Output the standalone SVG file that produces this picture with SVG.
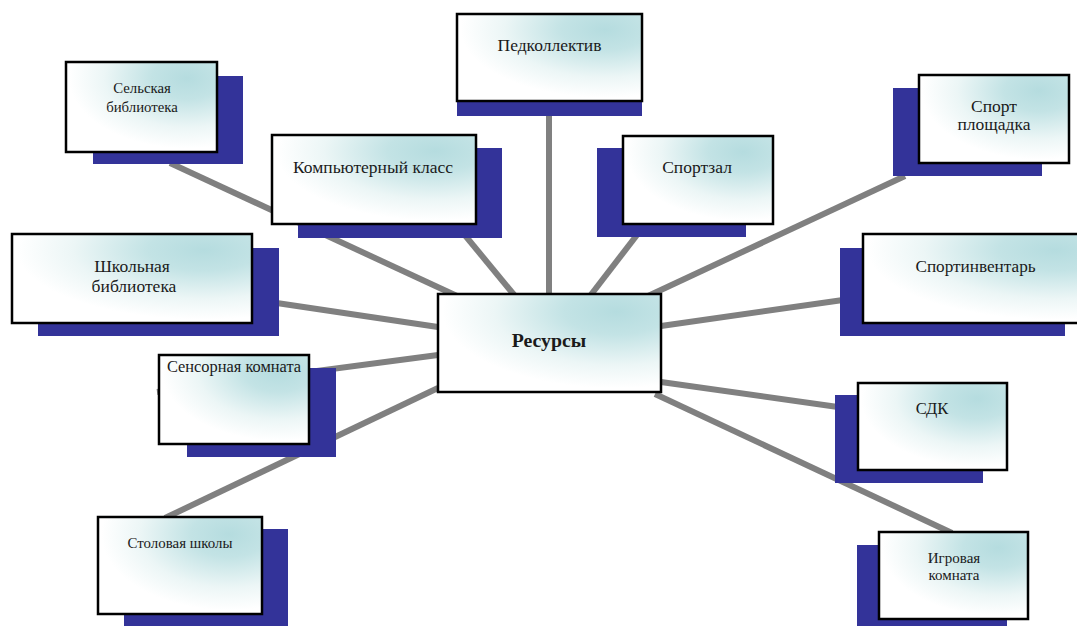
<svg xmlns="http://www.w3.org/2000/svg" width="1077" height="626" viewBox="0 0 1077 626">
<defs>
<radialGradient id="g" cx="0.8" cy="0.18" r="0.78" fx="0.8" fy="0.18">
<stop offset="0" stop-color="#b5dcdf"/>
<stop offset="0.3" stop-color="#c3e3e5"/>
<stop offset="0.7" stop-color="#ecf6f6"/>
<stop offset="1" stop-color="#ffffff"/>
</radialGradient>
</defs>
<style>
.sh{fill:#333399}
.bx{fill:url(#g);stroke:#000;stroke-width:2.5}
.t{font-family:"Liberation Serif","Times New Roman",serif;fill:#1a1a1a;text-anchor:middle}
.c{stroke:#808080;stroke-width:6;fill:none}
</style>
<rect width="1077" height="626" fill="#fff"/>
<g id="connectors">
<line class="c" x1="170" y1="163" x2="457" y2="296"/>
<line class="c" x1="440" y1="205" x2="515" y2="296"/>
<line class="c" x1="549" y1="110" x2="549" y2="296"/>
<line class="c" x1="660" y1="205" x2="590" y2="296"/>
<line class="c" x1="905" y1="176" x2="648" y2="296"/>
<line class="c" x1="850" y1="299" x2="661" y2="326"/>
<line class="c" x1="661" y1="382" x2="845" y2="408"/>
<line class="c" x1="655" y1="394" x2="952" y2="533"/>
<line class="c" x1="438" y1="388" x2="165" y2="518"/>
<line class="c" x1="438" y1="355" x2="157" y2="392"/>
<line class="c" x1="270" y1="302" x2="438" y2="327"/>
</g>
<g id="n-ped">
<rect class="sh" x="457" y="28" width="185" height="88"/>
<rect class="bx" x="457" y="14" width="185" height="87"/>
<text class="t" x="549.5" y="51" font-size="17.5">Педколлектив</text>
</g>
<g id="n-sel">
<rect class="sh" x="93" y="76" width="150" height="88"/>
<rect class="bx" x="66" y="62" width="151" height="90"/>
<text class="t" x="142" y="93" font-size="14.8">Сельская</text>
<text class="t" x="142" y="112" font-size="14.8">библиотека</text>
</g>
<g id="n-komp">
<rect class="sh" x="298" y="148" width="204" height="90"/>
<rect class="bx" x="272" y="135" width="204" height="89"/>
<text class="t" x="373" y="173" font-size="17.5">Компьютерный класс</text>
</g>
<g id="n-sportzal">
<rect class="sh" x="597" y="148" width="149" height="89"/>
<rect class="bx" x="623" y="136" width="150" height="88"/>
<text class="t" x="697" y="173" font-size="17.5">Спортзал</text>
</g>
<g id="n-sportpl">
<rect class="sh" x="893" y="88" width="149" height="88"/>
<rect class="bx" x="919" y="75" width="150" height="88"/>
<text class="t" x="994" y="112" font-size="17.5">Спорт</text>
<text class="t" x="994" y="130" font-size="17.5">площадка</text>
</g>
<g id="n-shkol">
<rect class="sh" x="38" y="248" width="241" height="88"/>
<rect class="bx" x="12" y="234" width="240" height="89"/>
<text class="t" x="132" y="272" font-size="17.5">Школьная</text>
<text class="t" x="134" y="292" font-size="17.5">библиотека</text>
</g>
<g id="n-sportinv">
<rect class="sh" x="840" y="248" width="225" height="88"/>
<rect class="bx" x="863" y="234" width="240" height="89"/>
<text class="t" x="975.5" y="272" font-size="17.2">Спортинвентарь</text>
</g>
<g id="n-resursy">
<rect class="bx" x="438" y="294" width="223" height="98"/>
<text class="t" x="549" y="347" font-size="19.8" font-weight="bold" fill="#000">Ресурсы</text>
</g>
<g id="n-sensor">
<rect class="sh" x="187" y="368" width="149" height="89"/>
<rect class="bx" x="159" y="355" width="150" height="89"/>
<text class="t" x="234" y="372" font-size="16.4">Сенсорная комната</text>
</g>
<g id="n-sdk">
<rect class="sh" x="835" y="395" width="148" height="88"/>
<rect class="bx" x="858" y="383" width="149" height="87"/>
<text class="t" x="932" y="414" font-size="16.5">СДК</text>
</g>
<g id="n-igr">
<rect class="sh" x="857" y="545" width="150" height="85"/>
<rect class="bx" x="879" y="532" width="149" height="87"/>
<text class="t" x="954" y="563" font-size="15">Игровая</text>
<text class="t" x="954" y="580" font-size="15">комната</text>
</g>
<g id="n-stol">
<rect class="sh" x="124" y="529" width="164" height="100"/>
<rect class="bx" x="98" y="517" width="164" height="97"/>
<text class="t" x="180" y="548" font-size="14.9">Столовая школы</text>
</g>
</svg>
